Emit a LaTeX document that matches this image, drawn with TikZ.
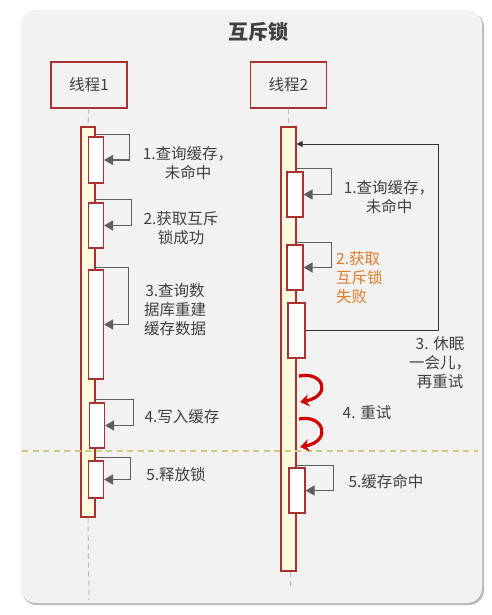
\documentclass[tikz,border=0pt]{standalone}
\usepackage{fontspec}
\setmainfont{Noto Sans CJK SC}
\usepackage{tikz}
\usetikzlibrary{arrows.meta}
\definecolor{panelgray}{HTML}{F2F2F2}
\definecolor{boxred}{HTML}{A83232}
\definecolor{barfill}{HTML}{FFF9DD}
\definecolor{linegray}{HTML}{5E5E5E}
\definecolor{textgray}{HTML}{404040}
\definecolor{failorange}{HTML}{E07B28}
\definecolor{splitolive}{HTML}{CFCB85}
\definecolor{retryred}{HTML}{D00000}

\begin{document}
\begin{tikzpicture}[x=1pt,y=-1pt,
	thread/.style={draw=boxred,line width=1.2pt,fill=panelgray,minimum width=76pt,minimum height=46pt,inner sep=0pt,font=\fontsize{15.5}{18}\selectfont,text=textgray},
	lifebar/.style={draw=boxred,line width=1.2pt,fill=barfill,minimum width=14pt,inner sep=0pt},
	act/.style={draw=boxred,line width=1.1pt,fill=white,minimum width=15pt,inner sep=0pt},
	selfcall/.style={linegray,line width=1.3pt,-{Triangle[length=9pt,width=10pt]}},
	lifeline/.style={gray!55,line width=1pt,dash pattern=on 5pt off 4pt},
	msg/.style={inner sep=0pt,align=center,text=textgray,font=\fontsize{15.5}{19}\selectfont},
	retry/.style={retryred,line width=3.2pt,-{Stealth[length=9pt,width=12pt]}}]
	\useasboundingbox (0,0) rectangle (491,615);
	\fill[gray!55,rounded corners=15pt] (22,12) rectangle (484,605);
	\fill[panelgray,rounded corners=15pt] (21,10) rectangle (482,603);
	\node[font=\fontsize{20}{24}\selectfont\bfseries,text=textgray] (title) at (258,32) {互斥锁};
	\node[thread] (t1) at (89,85) {线程1};
	\node[thread] (t2) at (288.5,85) {线程2};
	\node[lifebar,minimum height=390pt] (bar1) at (88,322) {};
	\node[lifebar,minimum height=444pt,minimum width=15pt] (bar2) at (288.5,349) {};
	\coordinate (end1) at (89,600);
	\coordinate (end2) at (290,586);
	\draw[lifeline] (t1.south) -- (bar1.north);
	\draw[lifeline] (bar1.south) -- (end1);
	\draw[lifeline] (t2.south) -- (bar2.north);
	\draw[lifeline] (bar2.south -| end2) -- (end2);
	\draw[splitolive,line width=1.2pt,dash pattern=on 6pt off 4.5pt] (22,451) -- (478,451);

	\node[act,minimum height=46pt] (a1) at (96,160) {};
	\node[act,minimum height=45pt] (a2) at (96,225.5) {};
	\node[act,minimum height=109pt] (a3) at (96,324.5) {};
	\node[act,minimum height=45pt] (a4) at (97,425.5) {};
	\node[act,minimum height=37pt] (a5) at (96,479.5) {};
	\draw[selfcall] ([yshift=2pt]a1.north -| bar1.east) -- ++(34,0) |- (a1.east);
	\draw[selfcall] ([yshift=3pt]a2.north -| bar1.east) -- ++(36,0) |- (a2.east);
	\draw[selfcall] ([yshift=2pt]a3.north -| bar1.east) -- ++(33,0) |- (a3.east);
	\draw[selfcall] ([yshift=3pt]a4.north -| bar1.east) -- ++(38,0) |- (a4.east);
	\draw[selfcall] ([yshift=3pt]a5.north -| bar1.east) -- ++(35,0) |- (a5.east);
	\node[msg] (l1) at (188,163) {1.查询缓存，\\未命中};
	\node[msg] (l2) at (181,228) {2.获取互斥\\锁成功};
	\node[msg] (l3) at (175,310) {3.查询数\\据库重建\\缓存数据};
	\node[msg] (l4) at (182,417) {4.写入缓存};
	\node[msg] (l5) at (176,475) {5.释放锁};

	\node[act,minimum height=45pt,minimum width=16pt] (b1) at (295,194.5) {};
	\node[act,minimum height=45pt,minimum width=16pt] (b2) at (295,267.5) {};
	\node[act,minimum height=55pt,minimum width=17pt] (b3) at (296.5,330.5) {};
	\node[act,minimum height=45pt,minimum width=16pt] (b5) at (297,490.5) {};
	\draw[selfcall] ([yshift=3pt]b1.north -| bar2.east) -- ++(35,0) |- (b1.east);
	\draw[selfcall] ([yshift=2pt]b2.north -| bar2.east) -- ++(35,0) |- (b2.east);
	\draw[selfcall] ([yshift=2pt]b5.north -| bar2.east) -- ++(37,0) |- (b5.east);
	\coordinate (turn) at (438,144);
	\draw[black!80,line width=1pt,-{Triangle[length=6pt,width=6pt]}] (b3.east) -| (turn) -- (turn -| bar2.east);
	\node[msg] (m1) at (389,197.5) {1.查询缓存，\\未命中};
	\node[msg,text=failorange,align=left,anchor=west] (m2) at (336,278) {2.获取\\ 互斥锁\\ 失败};
	\node[msg] (m3) at (440,363) {3. 休眠\\一会儿，\\再重试};
	\node[msg] (m4) at (367,413) {4. 重试};
	\node[msg] (m5) at (386,482) {5.缓存命中};

	\coordinate (r1a) at (299,376);
	\coordinate (r1b) at (300,402);
	\coordinate (r2a) at (299,419);
	\coordinate (r2b) at (300,447);
	\draw[retry] (r1a) .. controls (324,371) and (332,396) .. (r1b);
	\draw[retry] (r2a) .. controls (324,414) and (332,441) .. (r2b);
\end{tikzpicture}
\end{document}
